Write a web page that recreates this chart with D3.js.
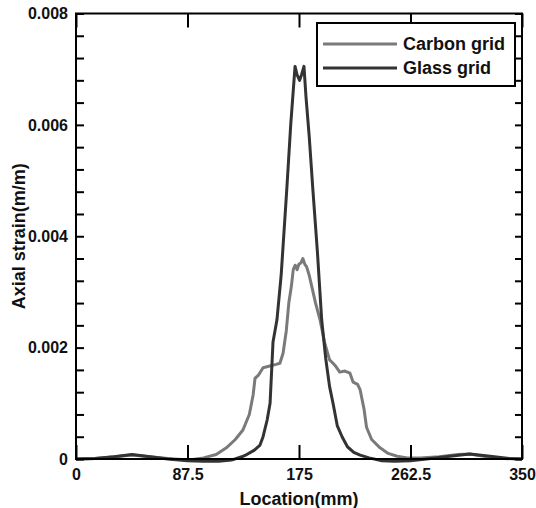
<!DOCTYPE html>
<html>
<head>
<meta charset="utf-8">
<script src="https://cdn.jsdelivr.net/npm/d3@7"></script>
<style>
  body { margin: 0; background: #fff; }
  svg text { font-family: "Liberation Sans", Arial, sans-serif; font-weight: bold; fill: #111; }
</style>
</head>
<body>
<div id="chart"></div>
<script>
// data
const carbonX = [0, 15, 30, 44, 58, 72, 87.5, 100, 110, 118, 125, 131, 136, 139, 140.5, 143, 146.8, 152, 157, 160, 162.5, 165, 167, 169, 170.5, 172, 173.5, 175, 176.5, 178, 179.5, 181, 183, 185, 188, 191.5, 195, 199, 201.7, 204, 207, 211, 215, 217.5, 221, 223, 226, 228, 232, 238.6, 245, 252, 260, 270, 285, 300, 309, 320, 335, 350]
const carbonY = [0, 0.00001, 0.00004, 0.00007, 0.00004, 0.00001, -0.00002, 0.00002, 0.00008, 0.0002, 0.00035, 0.00052, 0.0008, 0.00115, 0.00145, 0.0015, 0.00164, 0.00167, 0.0017, 0.00172, 0.0019, 0.0023, 0.0028, 0.0031, 0.0034, 0.00348, 0.0034, 0.0035, 0.00352, 0.0036, 0.0035, 0.00345, 0.0033, 0.0031, 0.0028, 0.0025, 0.0021, 0.00178, 0.00172, 0.00166, 0.00156, 0.00158, 0.00154, 0.00138, 0.00134, 0.00124, 0.0009, 0.00057, 0.00035, 0.0002, 0.0001, 0.00005, 0.00002, 0.00002, 0.00004, 0.00008, 0.00009, 0.00005, 0.00001, 0]
const glassX = [0, 15, 30, 44, 58, 72, 87.5, 100, 112, 122, 130, 134, 140, 144.4, 146.8, 150, 152.3, 154.6, 157.7, 161, 165.3, 168.5, 171.9, 173.5, 175.5, 177, 178.9, 180.5, 183, 186, 189.5, 192.8, 196, 199, 201.7, 205, 208.8, 213, 218, 223, 230, 240, 250, 262.5, 275, 290, 309, 325, 340, 350]
const glassY = [0, 0.00001, 0.00004, 0.00008, 0.00004, 0, -0.00003, -0.00004, -0.00004, -0.00002, 0.00004, 0.00008, 0.00016, 0.00025, 0.0004, 0.0007, 0.001, 0.0021, 0.0025, 0.0033, 0.0048, 0.006, 0.00705, 0.0069, 0.0068, 0.0069, 0.00705, 0.0065, 0.0058, 0.0048, 0.0037, 0.0025, 0.0018, 0.0013, 0.001, 0.0006, 0.0004, 0.00022, 0.00012, 0.00007, 0.00002, -0.00003, -0.00004, -0.00003, 0, 0.00004, 0.00009, 0.00005, 0.00001, 0]
const xTicks = [0, 87.5, 175, 262.5, 350]
const yTicks = [0, 0.002, 0.004, 0.006, 0.008]
const seriesNames = ['Carbon grid', 'Glass grid']
const seriesColors = ['#7a7a7a', '#333333']

const width = 536
const height = 508
const margin = { top: 13.5, right: 14, bottom: 49, left: 76 }

const svg = d3.select('#chart').append('svg').attr('width', width).attr('height', height)

const x = d3.scaleLinear().domain([0, 350]).range([margin.left, width - margin.right])
const y = d3.scaleLinear().domain([0, 0.008]).range([height - margin.bottom, margin.top])

const minorY = d3.range(0, 0.00801, 0.0004)

// clip lines to the frame
svg.append('clipPath').attr('id', 'clip')
  .append('rect')
  .attr('x', x(0)).attr('y', y(0.008))
  .attr('width', x(350) - x(0)).attr('height', y(0) - y(0.008) + 6)

const line = d3.line()
  .x(function (d) { return x(d[0]) })
  .y(function (d) { return y(d[1]) })

const series = [
  d3.zip(carbonX, carbonY),
  d3.zip(glassX, glassY)
]

svg.append('g').attr('clip-path', 'url(#clip)')
  .selectAll('path')
  .data(series)
  .enter()
  .append('path')
  .attr('d', line)
  .attr('fill', 'none')
  .attr('stroke', function (d, i) { return seriesColors[i] })
  .attr('stroke-width', 3)
  .attr('stroke-linejoin', 'round')

// axes, ticks pointing inward
svg.append('g')
  .attr('transform', 'translate(0,' + y(0) + ')')
  .call(d3.axisBottom(x).tickValues(xTicks).tickSize(-14).tickPadding(10).tickFormat(d3.format('')))
svg.append('g')
  .attr('transform', 'translate(0,' + y(0.008) + ')')
  .call(d3.axisTop(x).tickValues(xTicks).tickSize(-14).tickFormat(''))
svg.append('g')
  .attr('transform', 'translate(' + x(0) + ',0)')
  .call(d3.axisLeft(y).tickValues(minorY).tickSize(-8).tickFormat(''))
svg.append('g')
  .attr('transform', 'translate(' + x(0) + ',0)')
  .call(d3.axisLeft(y).tickValues(yTicks).tickSize(0).tickPadding(8).tickFormat(function (d) { return d === 0 ? '0' : d3.format('.3f')(d) }))
svg.append('g')
  .attr('transform', 'translate(' + x(350) + ',0)')
  .call(d3.axisRight(y).tickValues(minorY).tickSize(-7).tickFormat(''))

svg.selectAll('.domain').remove()
svg.selectAll('.tick line').attr('stroke', '#000').attr('stroke-width', 2)
svg.selectAll('.tick text').attr('font-size', 16).attr('font-family', null).attr('fill', '#111')

svg.append('rect')
  .attr('x', x(0)).attr('y', y(0.008))
  .attr('width', x(350) - x(0)).attr('height', y(0) - y(0.008))
  .attr('fill', 'none').attr('stroke', '#000').attr('stroke-width', 2)

// titles
svg.append('text')
  .attr('x', (x(0) + x(350)) / 2).attr('y', 505)
  .attr('text-anchor', 'middle').attr('font-size', 18)
  .text('Location(mm)')
svg.append('text')
  .attr('transform', 'translate(25,' + (y(0) + y(0.008)) / 2 + ') rotate(-90)')
  .attr('text-anchor', 'middle').attr('font-size', 18)
  .text('Axial strain(m/m)')

// legend
const legend = svg.append('g').attr('transform', 'translate(317,23)')
legend.append('rect')
  .attr('width', 198).attr('height', 63)
  .attr('fill', '#fff').attr('stroke', '#000').attr('stroke-width', 2)
seriesNames.forEach(function (name, i) {
  legend.append('line')
    .attr('x1', 6).attr('x2', 80).attr('y1', 21 + i * 24).attr('y2', 21 + i * 24)
    .attr('stroke', seriesColors[i]).attr('stroke-width', 3)
  legend.append('text')
    .attr('x', 86).attr('y', 27 + i * 24).attr('font-size', 18)
    .text(name)
})
</script>
</body>
</html>
